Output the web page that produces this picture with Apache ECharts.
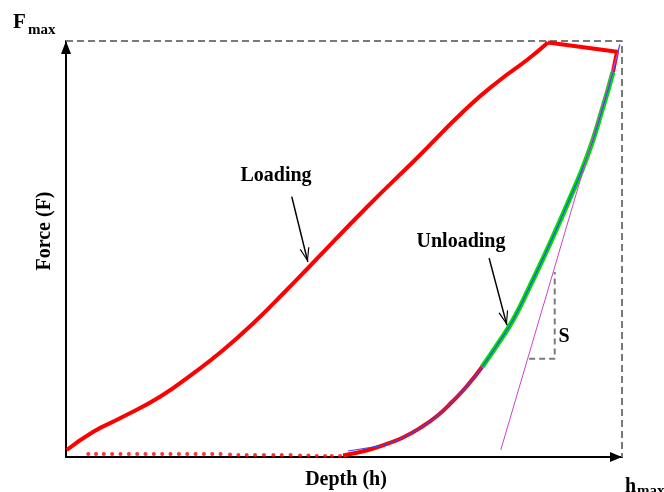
<!DOCTYPE html>
<html>
<head>
<meta charset="utf-8">
<script src="https://cdn.jsdelivr.net/npm/echarts@6/dist/echarts.min.js"></script>
<style>
  html, body { margin: 0; padding: 0; background: #fff; }
  #chart { width: 664px; height: 492px; }
</style>
</head>
<body>
<div id="chart"></div>
<script>
// Indentation load–unload curve, depth and force normalised to h_max = F_max = 100

// Loading branch (red)
const loadingDepth = [0.13, 4.91, 9.71, 16.91, 22.90, 28.29, 33.69, 39.69, 43.71, 54.14, 63.13, 72.12, 78.06, 82.91, 86.69];
const loadingForce = [1.68, 6.08, 9.30, 14.50, 20.12, 25.72, 32.14, 40.14, 45.67, 60.10, 71.88, 83.89, 90.63, 95.43, 99.64];

// Hold at peak load, then the first drop of the unloading branch
const holdDepth = [86.69, 99.1, 98.38];
const holdForce = [99.64, 97.4, 92.55];

// Upper unloading range used for the fit (green)
const fitRangeDepth = [98.38, 96.58, 93.71, 90.11, 86.51, 83.45, 80.40, 77.52, 74.82];
const fitRangeForce = [92.55, 84.13, 72.12, 60.58, 49.76, 41.11, 32.93, 26.92, 21.63];

// Lower unloading tail (red)
const tailDepth = [74.82, 72.12, 69.42, 66.73, 63.67, 60.61, 57.73, 54.68, 51.62, 49.82];
const tailForce = [21.63, 17.07, 13.22, 9.86, 6.97, 4.69, 3.13, 1.80, 0.84, 0.36];

// Power-law fit of the unloading branch (blue)
const fitDepth = [50.72, 54.68, 57.73, 60.61, 63.67, 66.73, 69.42, 72.12, 74.82, 77.52, 80.40, 83.45, 86.51, 90.11, 93.71, 96.58, 98.38, 99.6];
const fitForce = [1.44, 2.28, 3.13, 4.69, 6.97, 9.86, 13.22, 17.07, 21.63, 26.92, 32.93, 41.11, 49.76, 60.58, 72.12, 84.13, 92.55, 99.2];

// Contact stiffness tangent S (magenta)
const tangentDepth = [78.2, 99.3];
const tangentForce = [1.7, 97.4];

// Residual trace before contact (dotted)
const residualDepth = [4.0, 5.4, 6.8, 8.3, 9.8, 11.3, 12.8, 14.3, 15.8, 17.3, 18.8, 20.3, 21.8, 23.3, 24.8, 26.3, 27.8, 29.5, 31.0, 32.5, 34.0, 35.6, 37.3, 38.8, 40.4, 42.1, 43.6, 45.1, 46.6, 47.8, 49.3];
const residualForce = [0.72, 0.72, 0.72, 0.72, 0.72, 0.72, 0.72, 0.72, 0.72, 0.72, 0.72, 0.72, 0.72, 0.72, 0.72, 0.72, 0.72, 0.6, 0.48, 0.48, 0.48, 0.48, 0.48, 0.48, 0.48, 0.36, 0.36, 0.24, 0.24, 0.24, 0.24];

// Slope triangle for S
const slopeDepth = [83.3, 87.9, 87.9];
const slopeForce = [23.6, 23.6, 44.5];

// Peak guides (F_max, h_max)
const guideDepth = [0, 100, 100];
const guideForce = [100, 100, 0];

const zip = (xs, ys) => xs.map((x, i) => [x, ys[i]]);

const SERIF = "'Liberation Serif', 'Times New Roman', serif";
const RED = '#ff0000';
const GREEN = '#00dd00';
const BLUE = '#2f4cff';
const MAGENTA = '#cc44cc';
const DASH_GREY = '#7a7a7a';

// Open arrowhead, tip pointing up
const ARROW_HEAD = 'path://M5,0 L10,14 L8.7,14 L5,3 L1.3,14 L0,14 Z';

const chart = echarts.init(document.getElementById('chart'), null, { renderer: 'canvas' });

const lineBase = { type: 'line', symbol: 'none', silent: true, animation: false, z: 3 };

chart.setOption({
  animation: false,
  backgroundColor: '#ffffff',
  grid: { left: 66, right: 42, top: 41, bottom: 35, containLabel: false, outerBoundsMode: 'none' },
  xAxis: {
    type: 'value', min: 0, max: 100,
    name: 'Depth (h)', nameLocation: 'middle', nameGap: 13,
    nameTextStyle: { fontFamily: SERIF, fontWeight: 'bold', fontSize: 20, color: '#000', padding: [0, 0, 0, 4] },
    axisLine: { show: true, onZero: false, lineStyle: { color: '#000', width: 2 },
      symbol: ['none', 'path://M5,0 L10,12 L0,12 Z'], symbolSize: [10, 12], symbolOffset: [0, -6] },
    axisTick: { show: false }, axisLabel: { show: false }, splitLine: { show: false }
  },
  yAxis: {
    type: 'value', min: 0, max: 100,
    name: 'Force (F)', nameLocation: 'middle', nameGap: 11, nameRotate: 90,
    nameTextStyle: { fontFamily: SERIF, fontWeight: 'bold', fontSize: 20, color: '#000', padding: [0, 0, 0, 36] },
    axisLine: { show: true, onZero: false, lineStyle: { color: '#000', width: 2 },
      symbol: ['none', 'path://M5,0 L10,13 L0,13 Z'], symbolSize: [10, 13], symbolOffset: [0, -6.5] },
    axisTick: { show: false }, axisLabel: { show: false }, splitLine: { show: false }
  },
  series: [
    Object.assign({}, lineBase, {
      name: 'guides', data: zip(guideDepth, guideForce), z: 1,
      lineStyle: { color: DASH_GREY, width: 2, type: [7, 4] }
    }),
    Object.assign({}, lineBase, {
      name: 'slope', data: zip(slopeDepth, slopeForce), z: 1,
      lineStyle: { color: DASH_GREY, width: 2, type: [6, 4] }
    }),
    {
      name: 'residual', type: 'scatter', data: zip(residualDepth, residualForce),
      symbol: 'circle', symbolSize: 4, itemStyle: { color: RED }, silent: true, animation: false, z: 3
    },
    Object.assign({}, lineBase, {
      name: 'loading', data: zip(loadingDepth, loadingForce), smooth: 0.5,
      lineStyle: { color: RED, width: 4 },
      markLine: {
        silent: true, animation: false,
        symbol: ['none', ARROW_HEAD], symbolSize: [10, 14], symbolOffset: [[0, 0], [0, 7]],
        label: { show: false },
        lineStyle: { color: '#000', width: 1.5, type: 'solid' },
        data: [
          [{ coord: [40.6, 62.6] }, { coord: [43.5, 46.9] }],
          [{ coord: [76.1, 47.8] }, { coord: [79.3, 31.7] }]
        ]
      }
    }),
    Object.assign({}, lineBase, {
      name: 'hold', data: zip(holdDepth, holdForce),
      lineStyle: { color: RED, width: 4, join: 'round' }
    }),
    Object.assign({}, lineBase, {
      name: 'tail', data: zip(tailDepth, tailForce), smooth: 0.5,
      lineStyle: { color: RED, width: 4 }
    }),
    Object.assign({}, lineBase, {
      name: 'fit range', data: zip(fitRangeDepth, fitRangeForce), smooth: 0.5,
      lineStyle: { color: GREEN, width: 5 }
    }),
    Object.assign({}, lineBase, {
      name: 'power-law fit', data: zip(fitDepth, fitForce), smooth: 0.5, z: 4,
      lineStyle: { color: BLUE, width: 1.2 }
    }),
    Object.assign({}, lineBase, {
      name: 'tangent', data: zip(tangentDepth, tangentForce), z: 4,
      lineStyle: { color: MAGENTA, width: 1 }
    })
  ],
  graphic: [
    { type: 'text', left: 13, top: 12, style: { text: 'F', fontFamily: SERIF, fontWeight: 'bold', fontSize: 21, fill: '#000' } },
    { type: 'text', left: 28, top: 23, style: { text: 'max', fontFamily: SERIF, fontWeight: 'bold', fontSize: 15, fill: '#000' } },
    { type: 'text', left: 625, top: 477, style: { text: 'h', fontFamily: SERIF, fontWeight: 'bold', fontSize: 20, fill: '#000' } },
    { type: 'text', left: 637, top: 484, style: { text: 'max', fontFamily: SERIF, fontWeight: 'bold', fontSize: 15, fill: '#000' } },
    { type: 'text', x: 276, y: 176, style: { text: 'Loading', fontFamily: SERIF, fontWeight: 'bold', fontSize: 20, fill: '#000', align: 'center', verticalAlign: 'middle' } },
    { type: 'text', x: 461, y: 242, style: { text: 'Unloading', fontFamily: SERIF, fontWeight: 'bold', fontSize: 20, fill: '#000', align: 'center', verticalAlign: 'middle' } },
    { type: 'text', x: 564, y: 337, style: { text: 'S', fontFamily: SERIF, fontWeight: 'bold', fontSize: 20, fill: '#000', align: 'center', verticalAlign: 'middle' } }
  ]
});
</script>
</body>
</html>
